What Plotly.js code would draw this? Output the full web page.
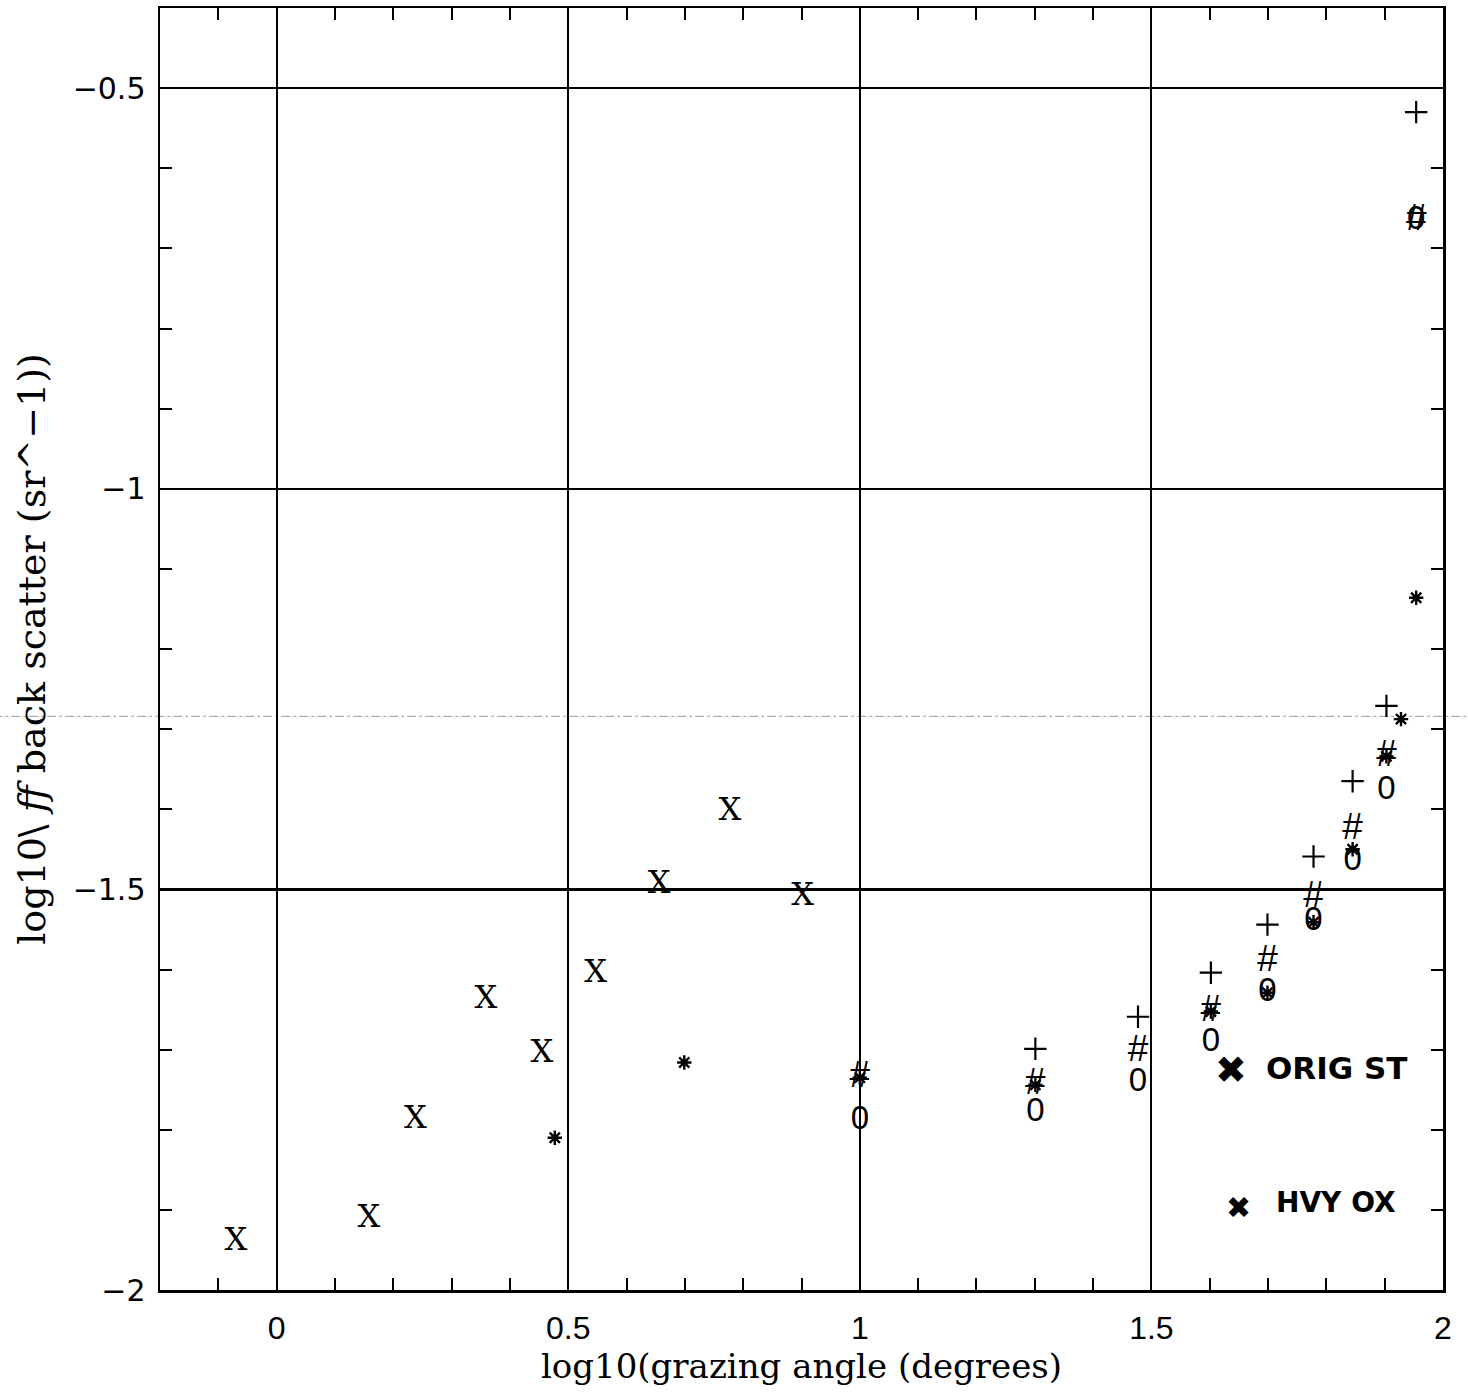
<!DOCTYPE html>
<html>
<head>
<meta charset="utf-8">
<script src="https://cdn.plot.ly/plotly-3.0.1.min.js"></script>
<style>html,body{margin:0;padding:0;background:#fff;}#chart{width:1468px;height:1395px;}</style>
</head>
<body>
<div id="chart"></div>
<script>
// ---- data ----
const xTickVals = [0, 0.5, 1, 1.5, 2];
const xTickText = ["0", "0.5", "1", "1.5", "2"];
const yTickVals = [-2, -1.5, -1, -0.5];
const yTickText = ["\u22122", "\u22121.5", "\u22121", "\u22120.5"];

const xSeriesX = [-0.07, 0.158, 0.238, 0.359, 0.455, 0.547, 0.656, 0.777, 0.902];
const ySeriesX = [-1.94, -1.912, -1.788, -1.638, -1.705, -1.606, -1.494, -1.404, -1.509];

const xPlus = [1.301, 1.477, 1.602, 1.699, 1.778, 1.845, 1.903, 1.954];
const yPlus = [-1.699, -1.659, -1.604, -1.544, -1.459, -1.365, -1.271, -0.53];

const xHash = [1.0, 1.301, 1.477, 1.602, 1.699, 1.778, 1.845, 1.903, 1.954];
const yHash = [-1.735, -1.744, -1.7025, -1.6525, -1.59, -1.51, -1.425, -1.334, -0.665];

const xZero = [1.0, 1.301, 1.477, 1.602, 1.699, 1.778, 1.845, 1.903, 1.954];
const yZero = [-1.789, -1.779, -1.741, -1.691, -1.629, -1.541, -1.466, -1.3775, -0.665];

const xStar = [0.477, 0.699, 1.0, 1.301, 1.602, 1.699, 1.778, 1.845, 1.903, 1.928, 1.954];
const yStar = [-1.81, -1.716, -1.735, -1.744, -1.6525, -1.629, -1.541, -1.45, -1.334, -1.2875, -1.136];

const xTitle = "log10(grazing angle (degrees)";
const yTitle = "log10\\ <i>ff</i> back scatter (sr^\u22121))";
const noteOrig = "ORIG ST";
const noteHvy = "HVY OX";

// ---- traces ----
const serif = "DejaVu Serif, Liberation Serif, serif";
const sans = "Liberation Sans, Arial, sans-serif";
const dsans = "DejaVu Sans, sans-serif";

const traces = [
  {x: xSeriesX, y: ySeriesX, mode: "text", text: xSeriesX.map(() => "X"),
   textposition: "middle center", textfont: {family: serif, size: 32, color: "#000"},
   showlegend: false},
  {x: xPlus, y: yPlus, mode: "markers",
   marker: {symbol: "cross-thin-open", size: 16, line: {width: 2.2, color: "#000"}, color: "#000"},
   showlegend: false},
  {x: xHash, y: yHash, mode: "text", text: xHash.map(() => "#"),
   textposition: "middle center", textfont: {family: sans, size: 37, color: "#000"},
   showlegend: false},
  {x: xZero, y: yZero, mode: "text", text: xZero.map(() => "0"),
   textposition: "middle center", textfont: {family: sans, size: 33, color: "#000"},
   showlegend: false},
  {x: xStar, y: yStar, mode: "markers",
   marker: {symbol: "asterisk-open", size: 12, line: {width: 2.4, color: "#000"}, color: "#000"},
   showlegend: false}
];

const layout = {
  width: 1468, height: 1395,
  margin: {l: 160, r: 25, t: 8, b: 105},
  paper_bgcolor: "#fff", plot_bgcolor: "#fff",
  showlegend: false,
  xaxis: {
    range: [-0.2, 2.0], tickvals: xTickVals, ticktext: xTickText,
    ticks: "inside", ticklen: 12, tickwidth: 2, tickcolor: "#000",
    minor: {dtick: 0.1, tick0: 0, ticks: "inside", ticklen: 12, tickwidth: 2, tickcolor: "#000", showgrid: false},
    showgrid: true, gridcolor: "#000", gridwidth: 2,
    zeroline: false, showline: true, linecolor: "#000", linewidth: 2.5, mirror: "ticks",
    tickfont: {family: sans, size: 32, color: "#000"}, ticklabelstandoff: 8,
    title: {text: xTitle, font: {family: serif, size: 34, color: "#000"}, standoff: 10}
  },
  yaxis: {
    range: [-2, -0.4], tickvals: yTickVals, ticktext: yTickText,
    ticks: "inside", ticklen: 12, tickwidth: 2, tickcolor: "#000",
    minor: {dtick: 0.1, tick0: 0, ticks: "inside", ticklen: 12, tickwidth: 2, tickcolor: "#000", showgrid: false},
    showgrid: true, gridcolor: "#000", gridwidth: 2.5,
    zeroline: false, showline: true, linecolor: "#000", linewidth: 2.5, mirror: "ticks",
    tickfont: {family: dsans, size: 30, color: "#000"}, ticklabelstandoff: 6,
    title: {text: yTitle, font: {family: serif, size: 38, color: "#000"}, standoff: 16}
  },
  annotations: [
    {x: 1.818, y: -1.7225, xref: "x", yref: "y", text: "<b>" + noteOrig + "</b>", showarrow: false,
     font: {family: dsans, size: 31, color: "#000"}},
    {x: 1.637, y: -1.725, xref: "x", yref: "y", text: "<b>\u2716</b>", showarrow: false,
     font: {family: dsans, size: 38, color: "#000"}},
    {x: 1.817, y: -1.891, xref: "x", yref: "y", text: "<b>" + noteHvy + "</b>", showarrow: false,
     font: {family: dsans, size: 28, color: "#000"}},
    {x: 1.649, y: -1.8975, xref: "x", yref: "y", text: "<b>\u2716</b>", showarrow: false,
     font: {family: dsans, size: 30, color: "#000"}}
  ],
  shapes: [
    {type: "line", xref: "paper", yref: "y", x0: -0.13, x1: 1.02, y0: -1.284, y1: -1.284,
     line: {color: "#9a9a9a", width: 1, dash: "dashdot"}, layer: "below"}
  ]
};

Plotly.newPlot("chart", traces, layout, {displayModeBar: false, staticPlot: true});
</script>
</body>
</html>
